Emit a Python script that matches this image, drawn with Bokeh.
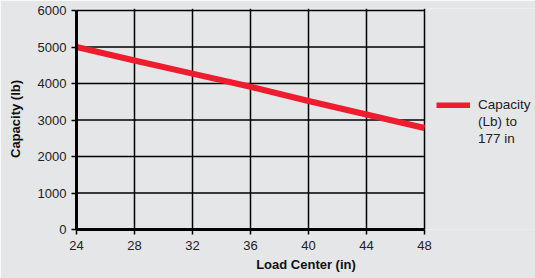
from bokeh.plotting import figure
from bokeh.models import Range1d, FixedTicker, Legend, LegendItem
from bokeh.embed import file_html
from bokeh.resources import INLINE

load_center = [24, 28, 32, 36, 40, 44, 48]
capacity = [5000, 4630, 4270, 3910, 3520, 3150, 2780]
x_ticks = [24, 28, 32, 36, 40, 44, 48]
y_ticks = [0, 1000, 2000, 3000, 4000, 5000, 6000]
series_name_lines = ["Capacity", "(Lb) to", "177 in"]

BG = "#e5e6e8"
RED = "#ed1c2e"
FONT = "Liberation Sans"

# plot frame spans to the right edge so that the legend (drawn inside it) is not clipped;
# the data area itself stays 24..48 on 348 px
x_lo, x_hi = x_ticks[0], x_ticks[-1]
x_end = x_lo + (x_hi - x_lo) * 459 / 348
y_end = y_ticks[-1] * (1 + 2 / 219)

p = figure(width=535, height=278, output_backend="svg", toolbar_location=None,
           x_range=Range1d(x_lo, x_end), y_range=Range1d(0, y_end),
           min_border_left=76, min_border_right=0, min_border_top=8, min_border_bottom=49)
p.background_fill_color = BG
p.border_fill_color = BG
p.outline_line_color = None

# horizontal grid lines limited to the data area
p.ygrid.visible = False
p.segment(x0=[x_lo] * len(y_ticks), x1=[x_hi] * len(y_ticks), y0=y_ticks, y1=y_ticks,
          line_color="black", line_width=1.5)

r = p.line(load_center, capacity, line_color=RED, line_width=6)
r_blank = p.line([], [], line_alpha=0)

p.xaxis.ticker = FixedTicker(ticks=x_ticks)
p.yaxis.ticker = FixedTicker(ticks=y_ticks)
p.xaxis.bounds = (x_lo, x_hi)
p.yaxis.bounds = (0, y_ticks[-1])
for ax in (p.xaxis[0], p.yaxis[0]):
    ax.axis_line_width = 3
    ax.axis_line_color = "black"
    ax.major_tick_line_color = "black"
    ax.major_tick_line_width = 1.5
    ax.major_tick_out = 5
    ax.major_tick_in = 0
    ax.minor_tick_line_color = None
    ax.major_label_text_font = FONT
    ax.major_label_text_font_size = "13px"
    ax.major_label_text_color = "#222222"
    ax.axis_label_text_font = FONT
    ax.axis_label_text_font_size = "13px"
    ax.axis_label_text_font_style = "bold"
    ax.axis_label_text_color = "#111111"
p.xaxis.axis_label = "Load Center (in)"
p.yaxis.axis_label = "Capacity (lb)"
p.xaxis.major_label_standoff = 6
p.yaxis.major_label_standoff = 5
p.xaxis.axis_label_standoff = 4
p.yaxis.axis_label_standoff = 12

p.xgrid.grid_line_color = "black"
p.xgrid.grid_line_width = 1.5
p.xgrid.ticker = FixedTicker(ticks=x_ticks)

items = [LegendItem(label=series_name_lines[0], renderers=[r])]
items += [LegendItem(label=t, renderers=[r_blank]) for t in series_name_lines[1:]]
legend = Legend(items=items,
                location=(360, 82), background_fill_alpha=0, border_line_color=None,
                label_text_font=FONT, label_text_font_size="13.5px", label_text_color="#222222",
                glyph_width=34, glyph_height=6, label_standoff=8, padding=0, margin=0,
                spacing=0, label_height=17)
p.add_layout(legend)

open("out.html", "w").write(file_html(p, INLINE))
